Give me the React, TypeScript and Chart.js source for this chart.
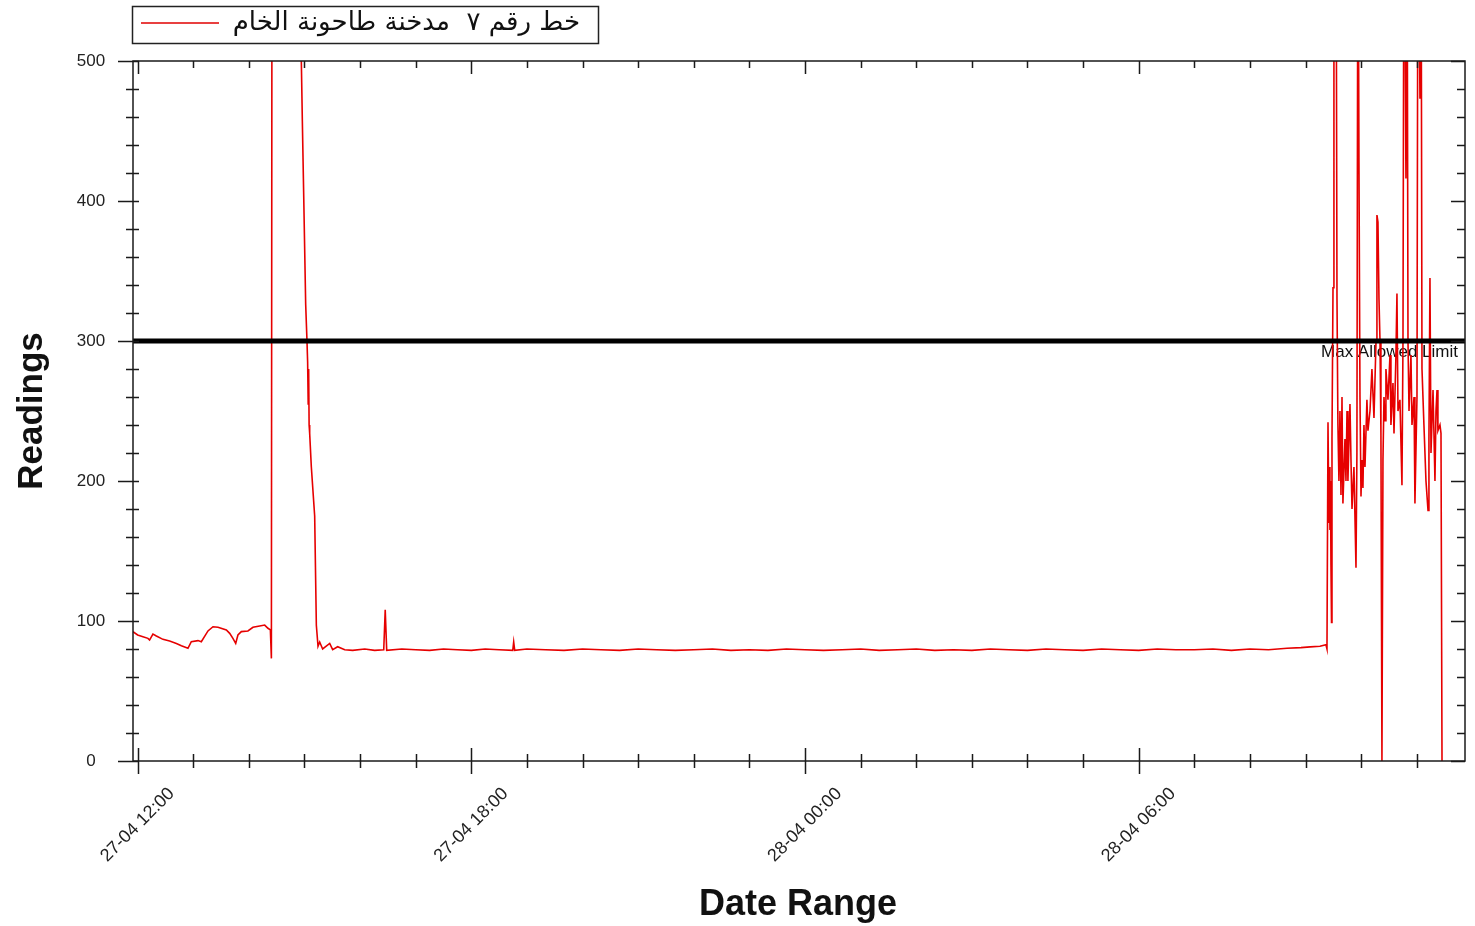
import React, { useEffect, useRef } from "react";
import { Chart, registerables } from "chart.js";

Chart.register(...registerables);

// ---------- data ----------
const seriesLabel = "خط رقم ٧  مدخنة طاحونة الخام";

// minutes after 27-04 12:00
const minutes = [
  -5, 0, 5.7, 11.1, 12.9, 16.5, 20.2, 27.3, 34.5, 41.8, 47.2, 54.3, 57.9, 65.1, 68.7,
  75.9, 81.3, 86.7, 95.7, 99.3, 102.8, 105.8, 108.2, 111.9, 119, 124.4, 131.7, 137.1,
  140.6, 143.2, 144.3, 145.0, 164, 175.9, 176.6, 177.7, 179.1, 181.3, 182.7, 183.4, 184,
  184.5, 185, 185.6, 187.4, 191, 192.8, 194.6, 196.4, 199.6, 207.2, 210.4, 215.8, 223.4,
  232, 245, 255.7, 265.5, 267.1, 268.7,
  285, 300, 315, 330, 345, 360, 375, 390, 404.7, 405.7, 406.8, 420, 440, 460, 480, 500,
  520, 540, 560, 580, 600, 620, 640, 660, 680, 700, 720, 740, 760, 780, 800, 820, 840,
  860, 880, 900, 920, 940, 960, 980, 1000, 1020, 1040, 1060, 1080, 1100, 1120, 1140,
  1160, 1180, 1200, 1220, 1240, 1255, 1265, 1275.5, 1282, 1283.1,
  1284.2, 1285.2, 1285.8, 1286.3, 1286.9, 1287.4, 1288, 1288.5, 1289.6, 1290.6, 1292.8,
  1293.9, 1294.9, 1296, 1297.1, 1298.2, 1299.3, 1300.3, 1302.5, 1303.6, 1304.7, 1305.7,
  1307.9, 1309, 1310.1, 1312.2, 1314.4, 1315.4, 1316.5, 1317.6, 1318.7, 1319.8, 1320.8,
  1321.9, 1323, 1324.1, 1326.2, 1327.3, 1329.5, 1331.6, 1333.8, 1336, 1337, 1338.1,
  1339.2, 1340.3, 1341.3, 1342.4, 1343.5, 1344.6, 1345.7, 1346.7, 1348.9, 1351.1,
  1352.1, 1354.3, 1355.4, 1357.5, 1358.6, 1359.7, 1361.8, 1364, 1365.1, 1366.2, 1368.3,
  1369.4, 1370.5, 1371.6, 1373.7, 1374.8, 1377, 1378, 1380.2, 1381.3, 1383.4, 1384.5,
  1385.6, 1387.7, 1389.9, 1392.1, 1393.1, 1394.2, 1395.3, 1397.5, 1399.6, 1400.7,
  1401.8, 1402.8, 1405, 1406.1, 1407.2,
];

const readings = [
  92.4, 90, 88.8, 87.6, 86.4, 90.7, 89.3, 86.9, 85.7, 84, 82.4, 80.5, 85.2, 86, 85.2,
  92.9, 95.9, 95.5, 93.6, 91.2, 87.6, 84, 90, 92.4, 92.9, 95.5, 96.4, 97.1,
  94.8, 93.6, 73.3, 650, 650, 650, 500, 457, 406, 326, 300, 285, 255,
  280, 240, 234, 210, 175, 97, 82, 85, 80, 84, 79.5, 81.6, 79.5,
  79, 80, 79, 79.5, 108, 79,
  80, 79.5, 79, 80, 79.5, 79, 80, 79.5, 79, 85, 79, 80, 79.5, 79, 80, 79.5,
  79, 80, 79.5, 79, 79.5, 80, 79, 79.5, 79, 80, 79.5, 79, 79.5, 80, 79, 79.5, 80,
  79, 79.5, 79, 80, 79.5, 79, 80, 79.5, 79, 80, 79.5, 79, 80, 79.5, 79.5,
  80, 79, 80, 79.5, 80.5, 81, 81.5, 82, 83, 80,
  242, 170, 210, 165, 200, 140, 99, 230, 338, 650, 650,
  330, 240, 200, 250, 190, 260, 184, 230, 200, 250, 200,
  255, 215, 180, 210, 138, 220, 650, 428, 260, 189, 215,
  195, 240, 210, 258, 236, 250, 280, 245, 300, 390, 385,
  330, 300, 234, 0, 215, 260, 243, 280, 258, 290,
  240, 270, 234, 290, 334, 250, 258, 197, 300, 650, 416,
  650, 300, 250, 290, 240, 260, 184, 260, 650, 473, 650,
  280, 240, 200, 179, 230, 345, 220, 265, 200, 250,
  265, 236, 240, 234, 0,
];

const LIMIT = 300;
const limitLabel = "Max Allowed Limit";

const xMin = -5;
const xMax = 1432;
const xMinorStep = 60;
const xMajorTicks = [0, 360, 720, 1080];
const xMajorLabels = ["27-04 12:00", "27-04 18:00", "28-04 00:00", "28-04 06:00"];

const yMin = 0;
const yMax = 500;
const yMinorStep = 20;
const yMajorTicks = [0, 100, 200, 300, 400, 500];

const xTitle = "Date Range";
const yTitle = "Readings";

// ---------- component ----------
export default function App() {
  const ref = useRef<HTMLCanvasElement>(null);

  useEffect(() => {
    const canvas = ref.current;
    if (!canvas) return;

    const decor = {
      id: "decor",
      beforeDatasetsDraw(chart: any) {
        const ctx = chart.ctx;
        const a = chart.chartArea;
        const ys = chart.scales.y;
        const yl = ys.getPixelForValue(LIMIT);
        ctx.save();
        ctx.fillStyle = "#111";
        ctx.font = "17px 'Liberation Sans', Arial, sans-serif";
        ctx.textAlign = "right";
        ctx.textBaseline = "alphabetic";
        ctx.fillText(limitLabel, a.right - 7, yl + 16);
        ctx.restore();
      },
      afterDatasetsDraw(chart: any) {
        const ctx = chart.ctx;
        const a = chart.chartArea;
        const xs = chart.scales.x;
        const ys = chart.scales.y;
        ctx.save();

        // limit line
        const yl = ys.getPixelForValue(LIMIT);
        ctx.strokeStyle = "#000";
        ctx.lineWidth = 5;
        ctx.beginPath();
        ctx.moveTo(a.left, yl);
        ctx.lineTo(a.right, yl);
        ctx.stroke();

        // frame
        ctx.strokeStyle = "#1a1a1a";
        ctx.lineWidth = 1.5;
        ctx.strokeRect(a.left, a.top, a.right - a.left, a.bottom - a.top);

        // x ticks (bottom and top)
        ctx.lineWidth = 1.5;
        for (let m = 0; m <= xMax; m += xMinorStep) {
          const px = Math.round(xs.getPixelForValue(m)) + 0.5;
          const major = xMajorTicks.includes(m);
          ctx.beginPath();
          if (major) {
            ctx.moveTo(px, a.bottom - 13);
            ctx.lineTo(px, a.bottom + 13);
            ctx.moveTo(px, a.top);
            ctx.lineTo(px, a.top + 13);
          } else {
            ctx.moveTo(px, a.bottom - 7);
            ctx.lineTo(px, a.bottom + 7);
            ctx.moveTo(px, a.top);
            ctx.lineTo(px, a.top + 7);
          }
          ctx.stroke();
        }

        // y ticks (left and right)
        for (let v = yMin; v <= yMax; v += yMinorStep) {
          const py = Math.round(ys.getPixelForValue(v)) + 0.5;
          const major = yMajorTicks.includes(v);
          ctx.beginPath();
          if (major) {
            ctx.moveTo(a.left - 15, py);
            ctx.lineTo(a.left + 6, py);
            ctx.moveTo(a.right - 14, py);
            ctx.lineTo(a.right, py);
          } else {
            ctx.moveTo(a.left - 7, py);
            ctx.lineTo(a.left + 6, py);
            ctx.moveTo(a.right - 8, py);
            ctx.lineTo(a.right, py);
          }
          ctx.stroke();
        }

        // y tick labels
        ctx.fillStyle = "#222";
        ctx.font = "17px 'Liberation Sans', Arial, sans-serif";
        ctx.textAlign = "center";
        ctx.textBaseline = "middle";
        yMajorTicks.forEach((v) => {
          ctx.fillText(String(v), a.left - 42, ys.getPixelForValue(v));
        });

        // x tick labels (rotated, centred under tick)
        ctx.font = "18px 'Liberation Sans', Arial, sans-serif";
        xMajorTicks.forEach((m, i) => {
          const px = xs.getPixelForValue(m);
          ctx.save();
          ctx.translate(px, a.bottom + 64);
          ctx.rotate(-Math.PI / 4);
          ctx.textAlign = "center";
          ctx.textBaseline = "middle";
          ctx.fillText(xMajorLabels[i], 0, 0);
          ctx.restore();
        });

        // axis titles
        ctx.fillStyle = "#111";
        ctx.font = "bold 36px 'Liberation Sans', Arial, sans-serif";
        ctx.textAlign = "center";
        ctx.textBaseline = "middle";
        ctx.fillText(xTitle, 798, 905);
        ctx.save();
        ctx.translate(32, 411);
        ctx.rotate(-Math.PI / 2);
        ctx.font = "bold 35px 'Liberation Sans', Arial, sans-serif";
        ctx.fillText(yTitle, 0, 0);
        ctx.restore();

        // legend
        ctx.strokeStyle = "#222";
        ctx.lineWidth = 1.5;
        ctx.strokeRect(132.5, 6.5, 466, 37);
        ctx.strokeStyle = "#e00000";
        ctx.lineWidth = 1.3;
        ctx.beginPath();
        ctx.moveTo(141, 23);
        ctx.lineTo(219, 23);
        ctx.stroke();
        ctx.fillStyle = "#111";
        ctx.font = "26px 'DejaVu Sans', sans-serif";
        (ctx as any).direction = "rtl";
        ctx.textAlign = "right";
        ctx.textBaseline = "middle";
        ctx.fillText(seriesLabel, 580, 23);

        ctx.restore();
      },
    };

    const chart = new Chart(canvas, {
      type: "line",
      data: {
        datasets: [
          {
            label: seriesLabel,
            data: minutes.map((m, i) => ({ x: m, y: readings[i] })),
            borderColor: "#e60000",
            borderWidth: 1.6,
            pointRadius: 0,
            tension: 0,
            fill: false,
          },
        ],
      },
      options: {
        responsive: false,
        animation: false,
        events: [],
        layout: { padding: { left: 133, top: 61, right: 10, bottom: 165 } },
        scales: {
          x: { type: "linear", min: xMin, max: xMax, display: false },
          y: { type: "linear", min: yMin, max: yMax, display: false },
        },
        plugins: {
          legend: { display: false },
          tooltip: { enabled: false },
        },
      },
      plugins: [decor],
    });

    return () => chart.destroy();
  }, []);

  return (
    <div style={{ position: "fixed", left: 0, top: 0, width: 1475, height: 926, background: "#fff" }}>
      <canvas ref={ref} width={1475} height={926} style={{ display: "block" }} />
    </div>
  );
}
